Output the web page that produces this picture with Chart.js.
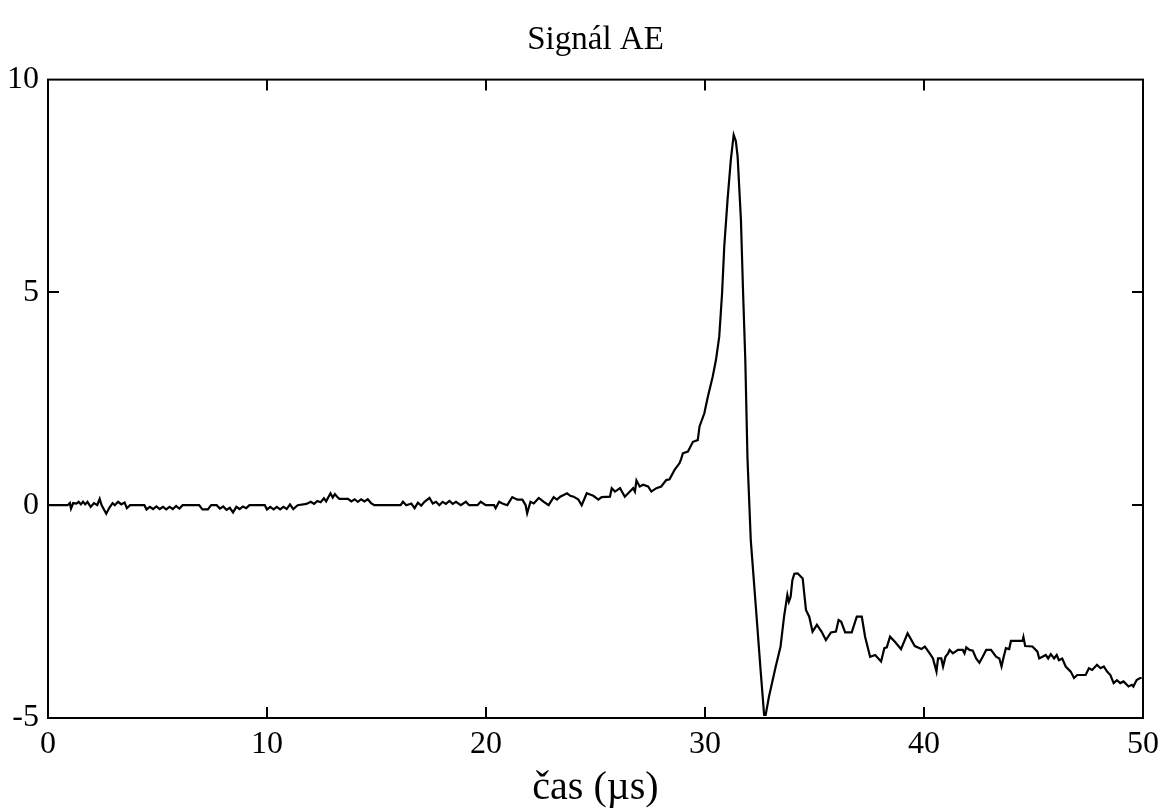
<!DOCTYPE html>
<html>
<head>
<meta charset="utf-8">
<script src="https://cdn.jsdelivr.net/npm/chart.js@4/dist/chart.umd.min.js"></script>
<style>
  html, body { margin: 0; padding: 0; background: #fff; }
  #wrap { width: 1166px; height: 808px; }
</style>
</head>
<body>
<div id="wrap"><canvas id="c" width="1166" height="808"></canvas></div>
<script>
const chartTitle = "Signál AE";
const xTitle = "čas (µs)";
const xTicks = [0, 10, 20, 30, 40, 50];
const yTicks = [-5, 0, 5, 10];

// time (µs)
const times = [
  0.0, 0.9, 1.0, 1.05, 1.15, 1.3, 1.4, 1.5, 1.6, 1.7, 1.8, 1.95, 2.1, 2.25, 2.36, 2.45, 2.66, 2.8, 2.95, 3.05,
  3.2, 3.35, 3.5, 3.6, 3.75, 4.4, 4.5, 4.65, 4.8, 4.95, 5.1, 5.25, 5.4, 5.55, 5.7, 5.85, 6.0, 6.15, 6.9, 7.05,
  7.3, 7.45, 7.7, 7.85, 8.0, 8.15, 8.3, 8.45, 8.6, 8.75, 8.9, 9.05, 9.2, 9.9, 10.0, 10.15, 10.3, 10.45, 10.6, 10.75,
  10.9, 11.05, 11.2, 11.4, 11.8, 12.0, 12.15, 12.3, 12.45, 12.6, 12.7, 12.9, 13.0, 13.1, 13.2, 13.3, 13.5, 13.7, 13.85, 14.0,
  14.15, 14.3, 14.45, 14.6, 14.75, 14.9, 16.1, 16.21, 16.36, 16.59, 16.74, 16.89, 17.04, 17.19, 17.42, 17.57, 17.72, 17.87, 18.02, 18.17,
  18.33, 18.48, 18.63, 18.85, 19.08, 19.23, 19.61, 19.76, 19.99, 20.37, 20.44, 20.6, 20.75, 20.97, 21.2, 21.43, 21.66, 21.81, 21.88, 22.03,
  22.18, 22.41, 22.64, 22.86, 23.09, 23.24, 23.39, 23.7, 23.85, 24.0, 24.22, 24.37, 24.6, 24.75, 24.9, 25.13, 25.28, 25.66, 25.74, 25.89,
  26.12, 26.34, 26.57, 26.72, 26.8, 26.87, 27.02, 27.17, 27.4, 27.55, 27.78, 28.0, 28.23, 28.38, 28.61, 28.84, 28.92, 28.99, 29.22, 29.45,
  29.67, 29.75, 29.97, 30.13, 30.35, 30.5, 30.65, 30.78, 30.88, 31.03, 31.18, 31.31, 31.41, 31.49, 31.64, 31.74, 31.84, 31.94, 32.09, 32.32,
  32.55, 32.7, 32.77, 32.92, 33.23, 33.45, 33.61, 33.76, 33.83, 33.91, 33.99, 34.08, 34.23, 34.46, 34.61, 34.76, 34.91, 35.11, 35.32, 35.52,
  35.75, 35.98, 36.1, 36.22, 36.4, 36.7, 36.93, 37.16, 37.31, 37.54, 37.77, 38.04, 38.19, 38.3, 38.45, 38.67, 38.95, 39.25, 39.58, 39.88,
  40.04, 40.26, 40.41, 40.57, 40.64, 40.79, 40.87, 40.98, 41.1, 41.17, 41.32, 41.55, 41.77, 41.85, 41.93, 42.08, 42.23, 42.38, 42.53, 42.68,
  42.84, 43.06, 43.29, 43.44, 43.54, 43.64, 43.74, 43.89, 43.97, 44.5, 44.54, 44.62, 44.95, 45.18, 45.26, 45.41, 45.56, 45.67, 45.79, 45.94,
  46.06, 46.16, 46.31, 46.47, 46.7, 46.85, 47.0, 47.15, 47.38, 47.53, 47.68, 47.9, 48.06, 48.21, 48.36, 48.51, 48.66, 48.81, 48.96, 49.11,
  49.34, 49.49, 49.56, 49.71, 49.87, 49.94
];

// signal amplitude
const values = [
  0.0, 0.0, 0.05, -0.08, 0.05, 0.04, 0.08, 0.02, 0.08, 0.02, 0.08, -0.04, 0.05, 0.0, 0.15, 0.0, -0.2, -0.06, 0.05, 0.0,
  0.08, 0.02, 0.06, -0.07, 0.0, 0.0, -0.1, -0.04, -0.09, -0.03, -0.09, -0.04, -0.1, -0.04, -0.09, -0.02, -0.08, 0.0, 0.0, -0.1,
  -0.1, 0.0, 0.0, -0.08, -0.03, -0.11, -0.06, -0.17, -0.04, -0.09, -0.03, -0.07, 0.0, 0.0, -0.1, -0.04, -0.1, -0.04, -0.1, -0.04,
  -0.09, 0.02, -0.09, 0.0, 0.03, 0.08, 0.03, 0.1, 0.07, 0.16, 0.09, 0.28, 0.18, 0.26, 0.2, 0.15, 0.15, 0.15, 0.09, 0.14,
  0.08, 0.14, 0.09, 0.14, 0.05, 0.0, 0.0, 0.08, 0.0, 0.04, -0.07, 0.06, -0.01, 0.08, 0.17, 0.04, 0.08, 0.0, 0.08, 0.03,
  0.1, 0.03, 0.08, 0.0, 0.08, 0.0, 0.0, 0.08, 0.0, 0.0, -0.07, 0.08, 0.04, 0.0, 0.19, 0.13, 0.13, 0.0, -0.19, 0.08,
  0.04, 0.17, 0.08, 0.0, 0.19, 0.13, 0.2, 0.28, 0.22, 0.2, 0.13, 0.0, 0.28, 0.25, 0.22, 0.13, 0.19, 0.2, 0.4, 0.32,
  0.4, 0.2, 0.32, 0.4, 0.32, 0.58, 0.44, 0.48, 0.44, 0.32, 0.4, 0.44, 0.59, 0.61, 0.83, 0.99, 1.1, 1.22, 1.26, 1.49,
  1.53, 1.85, 2.16, 2.55, 3.02, 3.41, 3.96, 4.98, 6.08, 7.18, 8.12, 8.7, 8.55, 8.19, 6.71, 4.98, 3.41, 1.1, -0.82, -2.38,
  -3.95, -4.93, -4.93, -4.5, -3.79, -3.32, -2.62, -2.11, -2.27, -2.15, -1.76, -1.61, -1.6, -1.72, -2.46, -2.62, -2.97, -2.81, -2.97, -3.17,
  -2.99, -2.97, -2.7, -2.74, -2.99, -2.99, -2.62, -2.62, -3.09, -3.56, -3.52, -3.67, -3.36, -3.34, -3.09, -3.21, -3.38, -3.01, -3.31, -3.38,
  -3.32, -3.48, -3.6, -3.91, -3.6, -3.6, -3.79, -3.56, -3.48, -3.4, -3.48, -3.4, -3.4, -3.48, -3.34, -3.4, -3.42, -3.6, -3.7, -3.56,
  -3.4, -3.4, -3.56, -3.6, -3.79, -3.56, -3.36, -3.38, -3.19, -3.19, -3.1, -3.31, -3.32, -3.44, -3.6, -3.56, -3.52, -3.6, -3.5, -3.6,
  -3.52, -3.64, -3.6, -3.79, -3.91, -4.06, -3.99, -3.99, -3.99, -3.83, -3.87, -3.75, -3.83, -3.79, -3.91, -3.99, -4.18, -4.11, -4.18, -4.14,
  -4.26, -4.22, -4.26, -4.11, -4.06, -4.06
];

const points = times.map((t, i) => ({ x: t, y: values[i] }));

const serif = '"Liberation Serif", "DejaVu Serif", serif';

const framePlugin = {
  id: 'frame',
  afterDatasetsDraw(chart) {
    const { ctx, chartArea: { left, right, top, bottom }, scales: { x, y } } = chart;
    const L = 11;
    ctx.save();
    ctx.strokeStyle = '#000';
    ctx.lineWidth = 2;
    ctx.strokeRect(left, top, right - left, bottom - top);
    ctx.beginPath();
    xTicks.slice(1, -1).forEach(v => {
      const px = Math.round(x.getPixelForValue(v));
      ctx.moveTo(px, bottom); ctx.lineTo(px, bottom - L);
      ctx.moveTo(px, top); ctx.lineTo(px, top + L);
    });
    yTicks.slice(1, -1).forEach(v => {
      const py = Math.round(y.getPixelForValue(v));
      ctx.moveTo(left, py); ctx.lineTo(left + L, py);
      ctx.moveTo(right, py); ctx.lineTo(right - L, py);
    });
    ctx.stroke();
    ctx.restore();
  }
};

new Chart(document.getElementById('c'), {
  type: 'line',
  data: {
    datasets: [{
      data: points,
      borderColor: '#000',
      borderWidth: 2.2,
      pointRadius: 0,
      tension: 0,
      fill: false
    }]
  },
  options: {
    responsive: false,
    animation: false,
    layout: { padding: { left: 0, right: 17, top: 0, bottom: 0 } },
    plugins: {
      legend: { display: false },
      tooltip: { enabled: false },
      title: {
        display: true,
        fullSize: false,
        text: chartTitle,
        color: '#000',
        font: { family: serif, size: 33, weight: 'normal', lineHeight: 1.2 },
        padding: { top: 21, bottom: 19 }
      }
    },
    scales: {
      x: {
        type: 'linear',
        min: 0, max: 50,
        afterBuildTicks: s => { s.ticks = xTicks.map(v => ({ value: v })); },
        afterFit: s => { s.height = 90; },
        grid: { display: false, drawTicks: false },
        border: { display: false },
        ticks: { color: '#000', font: { family: serif, size: 32 }, padding: 7, maxRotation: 0 },
        title: {
          display: true, text: xTitle, color: '#000',
          font: { family: serif, size: 40, lineHeight: 1.0 }, padding: { top: 0, bottom: 0 }
        }
      },
      y: {
        type: 'linear',
        min: -5, max: 10,
        afterBuildTicks: s => { s.ticks = yTicks.map(v => ({ value: v })); },
        afterFit: s => { s.width = 48; },
        grid: { display: false, drawTicks: false },
        border: { display: false },
        ticks: { color: '#000', font: { family: serif, size: 32 }, padding: 9 }
      }
    }
  },
  plugins: [framePlugin]
});
</script>
</body>
</html>
